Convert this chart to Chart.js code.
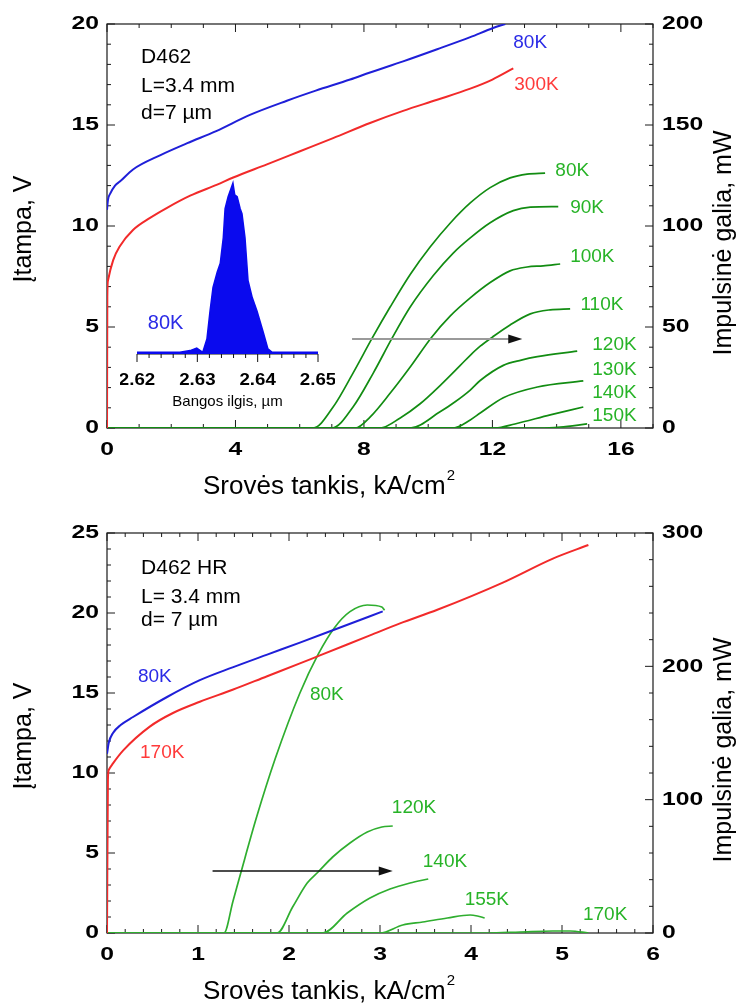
<!DOCTYPE html>
<html>
<head>
<meta charset="utf-8">
<script src="https://cdn.jsdelivr.net/npm/chart.js@4.4.1/dist/chart.umd.min.js"></script>
<style>
html, body { margin: 0; padding: 0; background: #fff; }
body { width: 741px; height: 1005px; position: relative; overflow: hidden; }
canvas { position: absolute; }
#top { left: 0; top: 0; }
#bottom { left: 0; top: 505px; }
#inset { left: 120px; top: 170px; pointer-events: none; }
</style>
</head>
<body>
<canvas id="top" width="741" height="505"></canvas>
<canvas id="bottom" width="741" height="500"></canvas>
<canvas id="inset" width="215" height="245"></canvas>
<script>
// ---- top chart (D462), current density kA/cm2 ----
const topBlueJ = [0, 0.03, 0.1, 0.25, 0.4, 0.81, 1.65, 2.5, 3.4, 4.45, 5.6, 6.5, 7.57, 8.19, 9.22, 10.28, 11.31, 12.02, 12.4];
const topBlueV = [10.8, 11.3, 11.6, 12.0, 12.2, 12.8, 13.5, 14.1, 14.7, 15.5, 16.2, 16.7, 17.25, 17.6, 18.15, 18.75, 19.35, 19.8, 20.0];
const topRedJ = [0, 0.01, 0.03, 0.19, 0.4, 0.81, 1.34, 1.87, 2.59, 3.43, 3.93, 4.98, 6.01, 7.04, 8.19, 9.22, 10.28, 11.31, 12.0, 12.65];
const topRedV = [0, 6.5, 7.3, 8.3, 9.0, 9.8, 10.4, 10.9, 11.5, 12.05, 12.4, 13.05, 13.7, 14.35, 15.1, 15.7, 16.25, 16.8, 17.25, 17.8];

// pulse power, mW
const p80J = [0, 6.42, 7.04, 7.66, 8.26, 8.82, 9.44, 10.06, 10.69, 11.31, 11.93, 12.55, 13.08, 13.64];
const p80P = [0, 0, 10.4, 27.2, 44.6, 60.0, 76.0, 89.6, 101.5, 111.4, 119.0, 123.8, 125.7, 126.2];
const p90J = [0, 7.01, 7.66, 8.29, 8.88, 9.44, 10.16, 10.78, 11.31, 11.93, 12.65, 13.18, 14.05];
const p90P = [0, 0, 10.4, 27.2, 44.6, 59.9, 75.5, 86.6, 94.1, 101.6, 107.6, 109.3, 109.6];
const p100J = [0, 7.73, 8.19, 8.82, 9.44, 10.09, 10.69, 11.31, 11.93, 12.55, 13.08, 13.58, 14.11];
const p100P = [0, 0, 5.4, 17.3, 30.2, 44.6, 55.5, 64.4, 72.0, 77.8, 79.7, 80.3, 81.2];
const p110J = [0, 8.5, 9.13, 9.75, 10.37, 11.0, 11.31, 11.62, 12.0, 12.55, 13.18, 13.8, 14.42];
const p110P = [0, 0, 5, 12, 21, 31, 36, 40.5, 45, 51, 56.5, 58.5, 59];
const p120J = [0, 9.44, 10.37, 10.84, 11.31, 11.62, 12.34, 12.9, 13.4, 14.64];
const p120P = [0, 0, 8, 13, 18.8, 23.5, 31, 33.6, 35.3, 38.1];
const p130J = [0, 10.78, 11.31, 11.62, 12.34, 13.4, 14.83];
const p130P = [0, 0, 4, 7.4, 15.0, 20.3, 23.3];
const p140J = [0, 12.09, 12.7, 13.8, 14.83];
const p140P = [0, 0, 2, 6.5, 10.4];
const p150J = [0, 13.49, 14.11, 14.95];
const p150P = [0, 0, 0.5, 2];

// inset spectrum, wavelength um / relative intensity
const specL = [2.62, 2.6271, 2.6288, 2.6299, 2.6309, 2.6316, 2.6321, 2.6326, 2.6333, 2.6338, 2.6343, 2.6346, 2.6351, 2.6356, 2.6359, 2.6362, 2.6366, 2.6371, 2.6374, 2.6379, 2.6384, 2.6391, 2.6399, 2.6409, 2.6417, 2.6424, 2.65];
const specI = [0.01, 0.01, 0.02, 0.035, 0.01, 0.09, 0.25, 0.39, 0.48, 0.53, 0.68, 0.85, 0.92, 0.97, 1.0, 0.93, 0.92, 0.85, 0.82, 0.68, 0.43, 0.33, 0.25, 0.13, 0.03, 0.01, 0.01];

// ---- bottom chart (D462 HR) ----
const botBlueJ = [0, 0.02, 0.066, 0.15, 0.286, 0.66, 1.02, 1.38, 1.76, 2.12, 2.54, 2.89, 3.03];
const botBlueV = [11.2, 11.9, 12.5, 13.0, 13.5, 14.75, 15.8, 16.6, 17.4, 18.15, 19.05, 19.8, 20.1];
const botRedJ = [0, 0.01, 0.02, 0.066, 0.176, 0.47, 0.725, 1.02, 1.38, 1.76, 2.12, 2.34, 2.89, 3.22, 3.63, 4.35, 4.9, 5.29];
const botRedV = [0, 9.6, 10.2, 10.6, 11.4, 12.9, 13.75, 14.45, 15.2, 16.05, 16.85, 17.35, 18.6, 19.35, 20.2, 21.9, 23.4, 24.25];
const b80J = [0, 1.286, 1.385, 1.47, 1.64, 1.85, 2.12, 2.32, 2.5, 2.67, 2.86, 3.02, 3.05];
const b80P = [0, 0, 24, 45, 86, 131, 180, 209, 229, 241, 246, 244.5, 242];
const b120J = [0, 1.87, 2.04, 2.2, 2.32, 2.48, 2.67, 2.86, 3.02, 3.14];
const b120P = [0, 0, 19.5, 37.5, 45.75, 57, 67.5, 75.75, 79.5, 80.25];
const b140J = [0, 2.37, 2.64, 2.89, 3.11, 3.33, 3.53];
const b140P = [0, 0, 15, 26.25, 33, 37.5, 40.5];
const b155J = [0, 3.0, 3.25, 3.47, 3.74, 3.99, 4.07, 4.15];
const b155P = [0, 0, 6, 8.25, 11.25, 13.5, 12.75, 11.25];
const b170J = [0, 4.18, 4.54, 4.9, 5.09, 5.29];
const b170P = [0, 0, 0.75, 1.5, 1.5, 0];

// tick labels
const topXTicks = [0, 4, 8, 12, 16];
const topYTicks = [0, 5, 10, 15, 20];
const topY2Ticks = [0, 50, 100, 150, 200];
const botXTicks = [0, 1, 2, 3, 4, 5, 6];
const botYTicks = [0, 5, 10, 15, 20, 25];
const botY2Ticks = [0, 100, 200, 300];
const insetTicks = [2.62, 2.63, 2.64, 2.65];

// arrows (x from, x to, power level)
const topArrowJ = [7.63, 12.93], topArrowP = 44;
const botArrowJ = [1.16, 3.14], botArrowP = 46.5;

const FONT = '"Liberation Sans", Arial, Helvetica, sans-serif';
const BLUE = '#1f1fd8', RED = '#f22a2a';
const GREEN_T = '#128c12', GREEN_B = '#2fae2f', GREEN_L = '#27b327';

const pts = (xs, ys) => xs.map((x, i) => ({ x: x, y: ys[i] }));

function line(ctx, x1, y1, x2, y2) {
    ctx.beginPath();
    ctx.moveTo(x1, y1);
    ctx.lineTo(x2, y2);
    ctx.stroke();
}

function text(ctx, s, x, y, font, color, align, baseline, sx, rot) {
    ctx.save();
    ctx.font = font;
    ctx.fillStyle = color;
    ctx.textAlign = align || 'left';
    ctx.textBaseline = baseline || 'middle';
    ctx.translate(x, y);
    if (rot) ctx.rotate(rot);
    ctx.scale(sx || 1, 1);
    ctx.fillText(s, 0, 0);
    ctx.restore();
}

const isMajor = (v, list) => list.some((t) => Math.abs(t - v) < 1e-6);

// frame, inward ticks, tick labels, titles, labels and arrow
function makeFrame(cfg) {
    return {
        id: 'frame',
        beforeDatasetsDraw(chart) {
            const { ctx, chartArea: a, scales } = chart;
            ctx.save();
            ctx.strokeStyle = '#1a1a1a';
            ctx.lineWidth = 1.2;
            ctx.strokeRect(a.left, a.top, a.right - a.left, a.bottom - a.top);
            ctx.lineWidth = 1;
            const xs = scales.x;
            for (let v = xs.min; v <= xs.max + 1e-6; v += cfg.xMinor) {
                const p = xs.getPixelForValue(v);
                const len = isMajor(v, cfg.xTicks) ? 8 : 4;
                line(ctx, p, a.bottom, p, a.bottom - len);
                line(ctx, p, a.top, p, a.top + len);
            }
            const ys = scales.y;
            for (let v = ys.min; v <= ys.max + 1e-6; v += cfg.yMinor) {
                const p = ys.getPixelForValue(v);
                const len = isMajor(v, cfg.yTicks) ? 8 : 4;
                line(ctx, a.left, p, a.left + len, p);
            }
            const y2 = scales.y2;
            for (let v = y2.min; v <= y2.max + 1e-6; v += cfg.y2Minor) {
                const p = y2.getPixelForValue(v);
                const len = isMajor(v, cfg.y2Ticks) ? 8 : 4;
                line(ctx, a.right, p, a.right - len, p);
            }
            ctx.restore();
        },
        afterDatasetsDraw(chart) {
            const { ctx, chartArea: a, scales } = chart;
            const tickFont = 'bold 19px ' + FONT;
            cfg.xTicks.forEach((v) => text(ctx, String(v), scales.x.getPixelForValue(v), a.bottom + 22, tickFont, '#000', 'center', 'middle', 1.3));
            cfg.yTicks.forEach((v) => text(ctx, String(v), a.left - 8, scales.y.getPixelForValue(v), tickFont, '#000', 'right', 'middle', 1.3));
            cfg.y2Ticks.forEach((v) => text(ctx, String(v), a.right + 9, scales.y2.getPixelForValue(v), tickFont, '#000', 'left', 'middle', 1.3));

            // axis titles
            const tf = '25px ' + FONT;
            const xt = 'Srovės tankis, kA/cm';
            const xl = a.left + 96, xb = a.bottom + 66;
            text(ctx, xt, xl, xb, '26px ' + FONT, '#000', 'left', 'alphabetic');
            ctx.font = '26px ' + FONT;
            const w = ctx.measureText(xt).width;
            text(ctx, '2', xl + w + 1, xb - 14, '15px ' + FONT, '#000', 'left', 'alphabetic');
            const mid = (a.top + a.bottom) / 2;
            text(ctx, 'Įtampa, V', 31, mid + 3, tf, '#000', 'center', 'alphabetic', 1, -Math.PI / 2);
            text(ctx, 'Impulsinė galia, mW', 731, mid + 17, tf, '#000', 'center', 'alphabetic', 1, -Math.PI / 2);

            // arrow
            const ay = scales.y2.getPixelForValue(cfg.arrowP);
            const ax1 = scales.x.getPixelForValue(cfg.arrowJ[0]);
            const ax2 = scales.x.getPixelForValue(cfg.arrowJ[1]);
            ctx.save();
            ctx.strokeStyle = cfg.arrowColor;
            ctx.lineWidth = cfg.arrowWidth;
            line(ctx, ax1, ay, ax2 - 10, ay);
            ctx.fillStyle = '#111';
            ctx.beginPath();
            ctx.moveTo(ax2, ay);
            ctx.lineTo(ax2 - 14, ay - 4.5);
            ctx.lineTo(ax2 - 14, ay + 4.5);
            ctx.closePath();
            ctx.fill();
            ctx.restore();

            // annotations
            cfg.labels.forEach((l) => {
                const px = scales.x.getPixelForValue(l.x);
                const py = scales[l.ax].getPixelForValue(l.y);
                text(ctx, l.t, px, py, l.f + ' ' + FONT, l.c, 'left', 'middle');
            });
        }
    };
}

function mainChart(id, pad, xMax, yMax, y2Max, datasets, cfg) {
    return new Chart(document.getElementById(id), {
        type: 'line',
        data: { datasets: datasets },
        options: {
            responsive: false,
            animation: false,
            events: [],
            layout: { padding: pad },
            plugins: { legend: { display: false }, tooltip: { enabled: false } },
            elements: {
                point: { radius: 0 },
                line: { cubicInterpolationMode: 'monotone', borderWidth: 2 }
            },
            scales: {
                x: { type: 'linear', display: false, min: 0, max: xMax },
                y: { type: 'linear', display: false, min: 0, max: yMax },
                y2: { type: 'linear', display: false, position: 'right', min: 0, max: y2Max }
            }
        },
        plugins: [makeFrame(cfg)]
    });
}

const vSet = (xs, ys, color) => ({ data: pts(xs, ys), borderColor: color, yAxisID: 'y', borderWidth: 2 });
const pSet = (xs, ys, color) => ({ data: pts(xs, ys), borderColor: color, yAxisID: 'y2', borderWidth: 1.7 });

mainChart('top', { left: 107, right: 88, top: 24, bottom: 77 }, 17, 20, 200, [
    vSet(topBlueJ, topBlueV, BLUE),
    vSet(topRedJ, topRedV, RED),
    pSet(p80J, p80P, GREEN_T),
    pSet(p90J, p90P, GREEN_T),
    pSet(p100J, p100P, GREEN_T),
    pSet(p110J, p110P, GREEN_T),
    pSet(p120J, p120P, GREEN_T),
    pSet(p130J, p130P, GREEN_T),
    pSet(p140J, p140P, GREEN_T),
    pSet(p150J, p150P, GREEN_T)
], {
    xTicks: topXTicks, yTicks: topYTicks, y2Ticks: topY2Ticks,
    xMinor: 1, yMinor: 1, y2Minor: 10,
    arrowJ: topArrowJ, arrowP: topArrowP, arrowColor: '#9a9a9a', arrowWidth: 2,
    labels: [
        { t: 'D462', x: 1.06, y: 18.37, ax: 'y', c: '#000', f: '21px' },
        { t: 'L=3.4 mm', x: 1.06, y: 16.93, ax: 'y', c: '#000', f: '21px' },
        { t: 'd=7 µm', x: 1.06, y: 15.6, ax: 'y', c: '#000', f: '21px' },
        { t: '80K', x: 12.65, y: 19.06, ax: 'y', c: '#2a2ae6', f: '19px' },
        { t: '300K', x: 12.68, y: 16.98, ax: 'y', c: '#ff3a3a', f: '19px' },
        { t: '80K', x: 13.96, y: 127.2, ax: 'y2', c: GREEN_L, f: '19px' },
        { t: '90K', x: 14.42, y: 108.9, ax: 'y2', c: GREEN_L, f: '19px' },
        { t: '100K', x: 14.42, y: 84.7, ax: 'y2', c: GREEN_L, f: '19px' },
        { t: '110K', x: 14.74, y: 60.9, ax: 'y2', c: GREEN_L, f: '19px' },
        { t: '120K', x: 15.11, y: 41.1, ax: 'y2', c: GREEN_L, f: '19px' },
        { t: '130K', x: 15.11, y: 28.7, ax: 'y2', c: GREEN_L, f: '19px' },
        { t: '140K', x: 15.11, y: 17.3, ax: 'y2', c: GREEN_L, f: '19px' },
        { t: '150K', x: 15.11, y: 5.9, ax: 'y2', c: GREEN_L, f: '19px' }
    ]
});

mainChart('bottom', { left: 107, right: 88, top: 28, bottom: 72 }, 6, 25, 300, [
    vSet(botBlueJ, botBlueV, BLUE),
    vSet(botRedJ, botRedV, RED),
    pSet(b80J, b80P, GREEN_B),
    pSet(b120J, b120P, GREEN_B),
    pSet(b140J, b140P, GREEN_B),
    pSet(b155J, b155P, GREEN_B),
    pSet(b170J, b170P, GREEN_B)
], {
    xTicks: botXTicks, yTicks: botYTicks, y2Ticks: botY2Ticks,
    xMinor: 0.2, yMinor: 1, y2Minor: 20,
    arrowJ: botArrowJ, arrowP: botArrowP, arrowColor: '#111', arrowWidth: 1.5,
    labels: [
        { t: 'D462 HR', x: 0.374, y: 22.8, ax: 'y', c: '#000', f: '21px' },
        { t: 'L= 3.4 mm', x: 0.374, y: 21.0, ax: 'y', c: '#000', f: '21px' },
        { t: 'd= 7 µm', x: 0.374, y: 19.56, ax: 'y', c: '#000', f: '21px' },
        { t: '80K', x: 0.34, y: 16.0, ax: 'y', c: '#2a2ae6', f: '19px' },
        { t: '170K', x: 0.363, y: 11.25, ax: 'y', c: '#ff3a3a', f: '19px' },
        { t: '80K', x: 2.23, y: 178.5, ax: 'y2', c: GREEN_L, f: '19px' },
        { t: '120K', x: 3.13, y: 93.75, ax: 'y2', c: GREEN_L, f: '19px' },
        { t: '140K', x: 3.47, y: 53.25, ax: 'y2', c: GREEN_L, f: '19px' },
        { t: '155K', x: 3.93, y: 24.75, ax: 'y2', c: GREEN_L, f: '19px' },
        { t: '170K', x: 5.23, y: 13.5, ax: 'y2', c: GREEN_L, f: '19px' }
    ]
});

// inset spectrum
const insetAxis = {
    id: 'insetAxis',
    beforeDatasetsDraw(chart) {
        const { ctx, chartArea: a, scales: { x } } = chart;
        ctx.save();
        ctx.strokeStyle = '#111';
        ctx.lineWidth = 1;
        line(ctx, a.left, a.bottom, a.right, a.bottom);
        for (let v = x.min; v <= x.max + 1e-6; v += 0.002) {
            const p = x.getPixelForValue(v);
            const len = isMajor(v, insetTicks) ? 8 : 4;
            line(ctx, p, a.bottom, p, a.bottom + len);
        }
        ctx.restore();
    },
    afterDatasetsDraw(chart) {
        const { ctx, chartArea: a, scales: { x, y } } = chart;
        insetTicks.forEach((v) => text(ctx, v.toFixed(2), x.getPixelForValue(v), a.bottom + 26, 'bold 17px ' + FONT, '#000', 'center', 'middle', 1.1));
        text(ctx, 'Bangos ilgis, µm', (a.left + a.right) / 2, a.bottom + 48, '15px ' + FONT, '#000', 'center', 'middle');
        text(ctx, '80K', x.getPixelForValue(2.6218), y.getPixelForValue(0.18), '20px ' + FONT, '#2a2ae6', 'left', 'middle');
    }
};

new Chart(document.getElementById('inset'), {
    type: 'line',
    data: {
        datasets: [{
            data: pts(specL, specI),
            borderColor: '#0a0aee',
            backgroundColor: '#0a0aee',
            borderWidth: 1.5,
            fill: 'origin',
            tension: 0,
            clip: false
        }]
    },
    options: {
        responsive: false,
        animation: false,
        events: [],
        layout: { padding: { left: 17, right: 17, top: 13, bottom: 61 } },
        plugins: { legend: { display: false }, tooltip: { enabled: false } },
        elements: { point: { radius: 0 } },
        scales: {
            x: { type: 'linear', display: false, min: 2.62, max: 2.65 },
            y: { type: 'linear', display: false, min: 0, max: 1 }
        }
    },
    plugins: [insetAxis]
});
</script>
</body>
</html>
